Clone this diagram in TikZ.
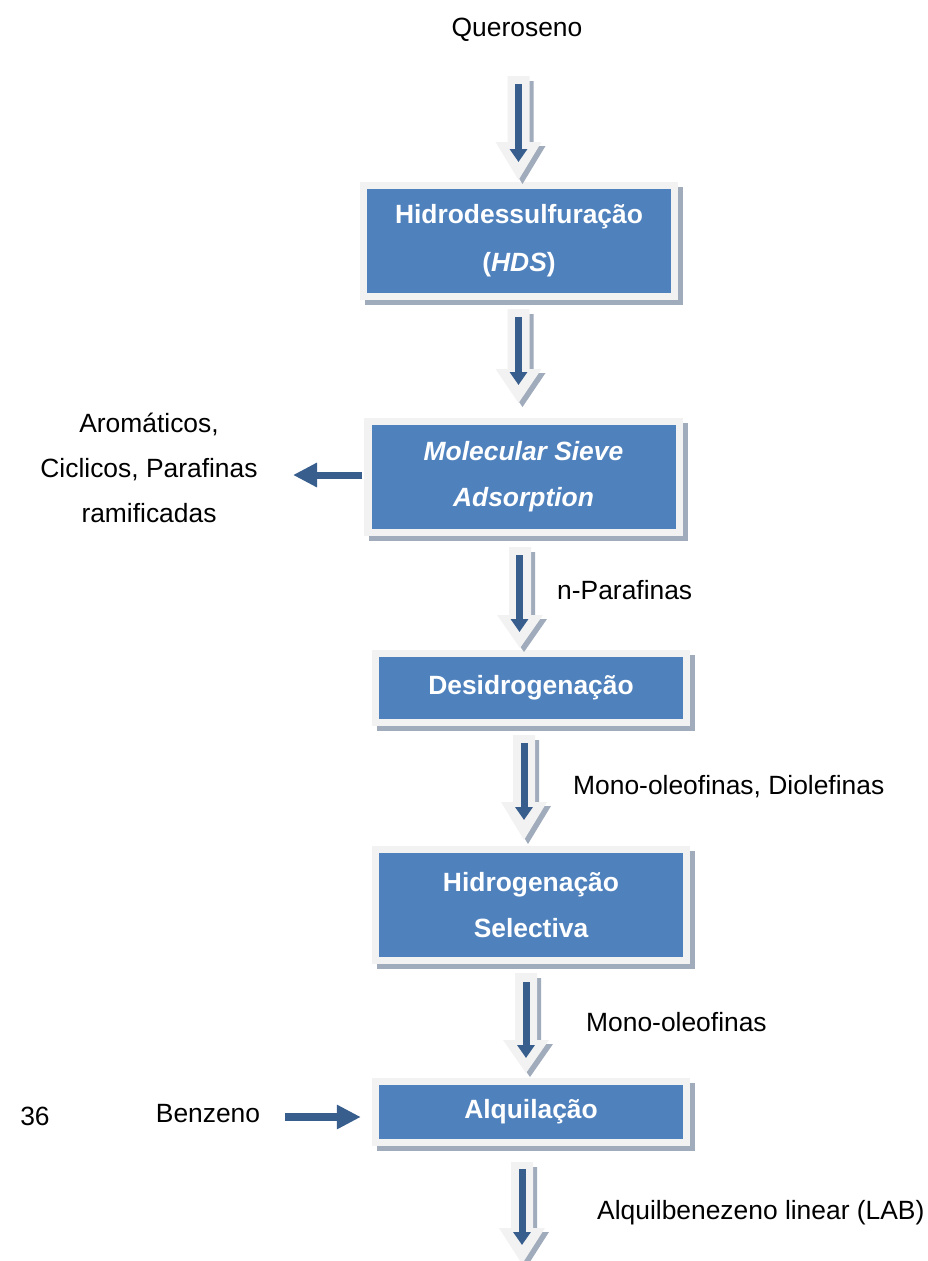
\documentclass[tikz,border=0pt]{standalone}
\usepackage{fontspec}
\setmainfont{Liberation Sans}
\usetikzlibrary{arrows.meta,backgrounds}
\definecolor{boxblue}{RGB}{79,129,189}
\definecolor{darkblue}{RGB}{56,94,142}
\definecolor{framegray}{RGB}{242,242,242}
\definecolor{shadowgray}{RGB}{160,171,187}
% block arrow: cx, shaft top, head top, tip
\newcommand\myblockarrow[4]{%
  \fill[shadowgray] ({#1-11+4},{#2+5}) -- ({#1+11+4},{#2+5}) -- ({#1+11+4},{#3+4}) -- ({#1+23+4},{#3+4}) -- ({#1+4},{#4+4}) -- ({#1-23+4},{#3+4}) -- ({#1-11+4},{#3+4}) -- cycle;
  \fill[framegray] ({#1-11},{#2}) -- ({#1+11},{#2}) -- ({#1+11},{#3}) -- ({#1+23},{#3}) -- ({#1},{#4}) -- ({#1-23},{#3}) -- ({#1-11},{#3}) -- cycle;
}
\newcommand\myframebox[1]{%
  \fill[shadowgray] ([shift={(-2,12)}]#1.south west) rectangle ([shift={(12,-2)}]#1.north east);
  \fill[framegray] ([shift={(-7,7)}]#1.south west) rectangle ([shift={(7,-7)}]#1.north east);
}
\begin{document}
\begin{tikzpicture}[x=1pt,y=-1pt,
  font=\fontsize{26.4}{46}\selectfont,
  box/.style={rectangle, fill=boxblue, text=white, align=center, inner sep=0pt,
    minimum width=304pt, font=\fontsize{26.4}{48}\selectfont\bfseries},
  lbl/.style={inner sep=0pt, anchor=west},
  flow/.style={draw=darkblue, line width=7pt, -{Triangle[length=13pt,width=17pt]}},
  side/.style={draw=darkblue, line width=7pt, -{Triangle[length=24pt,width=23pt]}}]
\useasboundingbox (0,0) rectangle (927,1261);

% boxes
\node[box, minimum height=104pt] (hds) at (519,241) {Hidrodessulfuração\\(\textit{HDS})};
\node[box, minimum height=104pt, font=\fontsize{26.4}{46}\selectfont\bfseries\itshape] (msa) at (523.5,477) {Molecular Sieve\\Adsorption};
\node[box, minimum height=62pt] (des) at (531,688) {Desidrogenação};
\node[box, minimum height=104pt, font=\fontsize{26.4}{46}\selectfont\bfseries] (hid) at (531,905) {Hidrogenação\\Selectiva};
\node[box, minimum height=54pt] (alq) at (531,1112) {Alquilação};

\begin{scope}[on background layer]
  \myframebox{hds}
  \myframebox{msa}
  \myframebox{des}
  \myframebox{hid}
  \myframebox{alq}
  \myblockarrow{518.5}{76}{142}{180}
  \myblockarrow{518.5}{309}{369}{403}
  \myblockarrow{520}{547}{615}{648}
  \myblockarrow{524}{735}{802}{840}
  \myblockarrow{526}{973}{1040}{1073}
  \myblockarrow{522}{1162}{1228}{1264}
\end{scope}

% texts
\node (quer) at (517,30) {Queroseno};
\node[align=center, inner sep=0pt, font=\fontsize{26.4}{45}\selectfont] (arom) at (149,468) {Aromáticos,\\Ciclicos, Parafinas\\ramificadas};
\node[lbl] (npar) at (557,590) {n-Parafinas};
\node[lbl] (mdo) at (573,787) {Mono-oleofinas, Diolefinas};
\node[lbl] (mono) at (586,1022) {Mono-oleofinas};
\node[lbl] (lab) at (597,1213) {Alquilbenezeno linear (LAB)};
\node[inner sep=0pt] (benz) at (208,1114) {Benzeno};
\node[inner sep=0pt] (pg) at (35,1116) {36};

% flow arrows (inside the block arrows)
\coordinate (a1s) at (518.5,84);   \coordinate (a1e) at (518.5,162);
\coordinate (a2s) at (518.5,317);  \coordinate (a2e) at (518.5,385);
\coordinate (a3s) at (519.5,555);  \coordinate (a3e) at (519.5,632);
\coordinate (a4s) at (524,743);    \coordinate (a4e) at (524,820);
\coordinate (a5s) at (526,982);    \coordinate (a5e) at (526,1058);
\coordinate (a6s) at (522,1169);   \coordinate (a6e) at (522,1245);
\draw[flow] (a1s) -- (a1e);
\draw[flow] (a2s) -- (a2e);
\draw[flow] (a3s) -- (a3e);
\draw[flow] (a4s) -- (a4e);
\draw[flow] (a5s) -- (a5e);
\draw[flow] (a6s) -- (a6e);

% side arrows
\coordinate (outtip) at (293,475);
\draw[side] ([xshift=-9pt]msa.west |- outtip) -- (outtip);
\coordinate (btail) at (285,1117);
\draw[side, line width=8pt] (btail) -- ([xshift=-18pt]alq.west |- btail);
\end{tikzpicture}
\end{document}
